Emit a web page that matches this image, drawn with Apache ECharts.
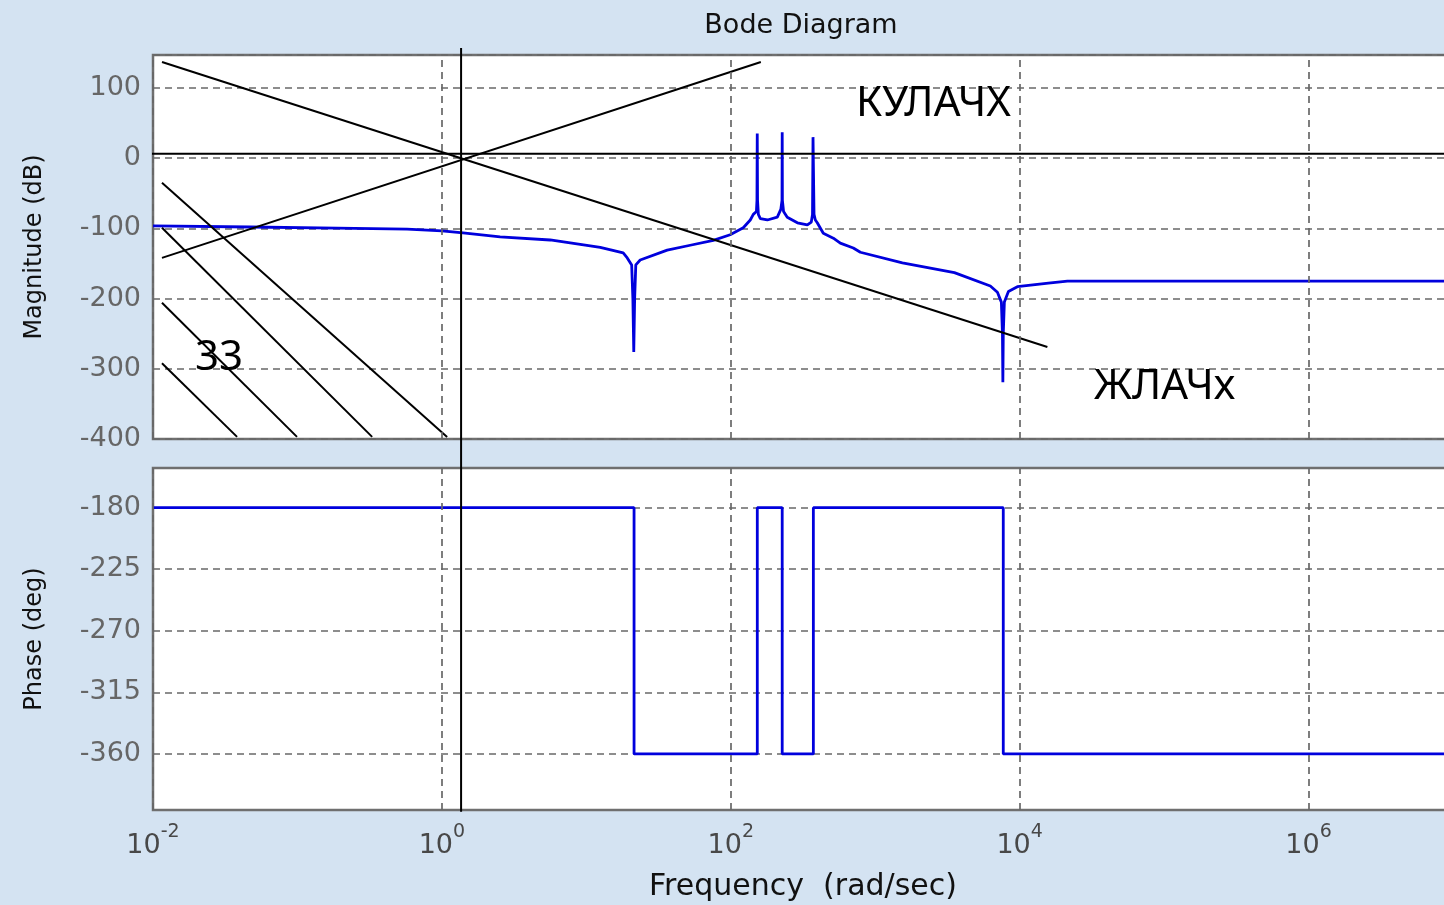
<!DOCTYPE html>
<html>
<head>
<meta charset="utf-8">
<script src="https://cdn.jsdelivr.net/npm/echarts@6/dist/echarts.min.js"></script>
<style>
html,body{margin:0;padding:0;background:#d4e3f2;}
#c{width:1444px;height:905px;}
</style>
</head>
<body>
<div id="c"></div>
<script>
// ---- data ----
const magFreq = [0.01, 0.047, 0.188, 0.574, 1.0, 1.4, 2.53, 5.62, 12.48, 18.0, 19.2, 20.6, 21.0, 21.3, 21.6, 22.0, 23.6, 36.3, 52.4, 75.7, 99, 122, 136.5, 143.2, 150.5, 151.8, 152.5, 153.2, 155.2, 160.2, 179.2, 210, 222, 226.3, 227, 227.7, 232, 246, 289, 339, 361, 368, 371, 374, 377, 385, 397, 437, 513, 573, 705, 789, 1542, 3532, 6266, 7014, 7470, 7600, 7650, 7700, 7835, 8360, 9640, 15810, 21410, 1e7];
const magDb = [-96.5, -98, -99.5, -101, -103.5, -106.5, -112, -116.5, -127, -135, -142, -152, -200, -276, -200, -152, -145, -131, -124, -117, -109, -99, -88, -80, -76, -60, 35, -60, -80, -86, -88, -84, -73, -60, 37, -60, -76, -84, -92, -95, -91, -80, 30, 30, -80, -88, -92, -107, -114, -121, -128, -134, -149, -163, -182, -191, -205, -250, -319, -250, -205, -190, -183, -178, -175, -175];

const phaseFreq = [0.01, 21.4, 21.4, 152.6, 152.6, 227, 227, 373, 373, 7700, 7700, 1e7];
const phaseDeg = [-180, -180, -360, -360, -180, -180, -360, -360, -180, -180, -360, -360];

const xTickExps = [-2, 0, 2, 4, 6];
const xGridFreqs = [0.01, 1, 100, 1e4, 1e6];
const magTicks = [-400, -300, -200, -100, 0, 100];
const phaseTicks = [-360, -315, -270, -225, -180];

// annotation guide lines (frequency, dB)
const slopeDownLine = [[0.01154, 137], [15560, -269]];
const slopeUpLine = [[0.01154, -142], [161.5, 137]];
const hatchLine1 = [[0.01154, -35], [1.087, -397]];
const hatchLine2 = [[0.01154, -99], [0.329, -397]];
const hatchLine3 = [[0.01154, -206], [0.0993, -397]];
const hatchLine4 = [[0.01154, -292], [0.0382, -397]];
const zeroLine = [[0.00916, 6.5], [1e7, 6.5]];
const crossLine = [[1.358, 157], [1.358, -931]];

// ---- chart ----
const chart = echarts.init(document.getElementById('c'));
const F = 'DejaVu Sans';
const gridLineStyle = { color: '#686868', width: 1.7, type: [7, 5] };
const blue = '#0000dd';

const magData = magFreq.map((f, i) => [f, magDb[i]]);
const phaseData = phaseFreq.map((f, i) => [f, phaseDeg[i]]);

function guide(data, clip) {
  return {
    type: 'line', xAxisIndex: 0, yAxisIndex: 0, data: data,
    showSymbol: false, symbol: 'none', clip: clip, silent: true, z: 4,
    lineStyle: { color: '#000', width: 2 }
  };
}
function vGrid(xi, yi) {
  return {
    type: 'line', xAxisIndex: xi, yAxisIndex: yi, data: [], z: 1, silent: true,
    markLine: {
      silent: true, symbol: 'none', label: { show: false },
      lineStyle: gridLineStyle, animation: false,
      data: xGridFreqs.map(v => ({ xAxis: v }))
    }
  };
}
const xLabel = {
  formatter: v => {
    const e = Math.round(Math.log10(v));
    return xTickExps.includes(e) ? '{b|10}{e|' + e + '}' : '';
  },
  margin: 13,
  rich: {
    b: { fontFamily: F, fontSize: 27, color: '#484848' },
    e: { fontFamily: F, fontSize: 19, color: '#484848', padding: [0, 0, 27, 0] }
  }
};

chart.setOption({
  animation: false,
  backgroundColor: '#d4e3f2',
  title: {
    text: 'Bode Diagram', left: 801, top: 12, textAlign: 'center', padding: 0,
    textStyle: { fontFamily: F, fontSize: 27, fontWeight: 'normal', color: '#111' }
  },
  grid: [
    { left: 153, top: 55, width: 1300, height: 384, show: true, backgroundColor: '#fff',
      borderColor: '#6f6f6f', borderWidth: 2.5, outerBoundsMode: 'none' },
    { left: 153, top: 468, width: 1300, height: 342, show: true, backgroundColor: '#fff',
      borderColor: '#6f6f6f', borderWidth: 2.5, outerBoundsMode: 'none' }
  ],
  xAxis: [
    { type: 'log', logBase: 10, gridIndex: 0, min: 0.01, max: 1e7,
      axisLine: { show: false }, axisTick: { show: false }, axisLabel: { show: false },
      splitLine: { show: false } },
    { type: 'log', logBase: 10, gridIndex: 1, min: 0.01, max: 1e7,
      axisLine: { show: false }, axisTick: { show: false }, axisLabel: xLabel,
      splitLine: { show: false },
      name: 'Frequency  (rad/sec)', nameLocation: 'middle', nameGap: 62,
      nameTextStyle: { fontFamily: F, fontSize: 30, color: '#111' } }
  ],
  yAxis: [
    { type: 'value', gridIndex: 0, min: -400, max: 147, interval: 100,
      axisLine: { show: false }, axisTick: { show: false },
      axisLabel: { fontFamily: F, fontSize: 27, color: '#666', margin: 12,
        formatter: v => magTicks.includes(v) ? String(v) : '' },
      splitLine: { show: true, lineStyle: gridLineStyle },
      name: 'Magnitude (dB)', nameLocation: 'middle', nameGap: 106,
      nameTextStyle: { fontFamily: F, fontSize: 24, color: '#111' } },
    { type: 'value', gridIndex: 1, min: -401, max: -151,
      axisLine: { show: false },
      axisTick: { show: false, customValues: phaseTicks },
      axisLabel: { fontFamily: F, fontSize: 27, color: '#666', margin: 12, customValues: phaseTicks },
      splitLine: { show: true, lineStyle: gridLineStyle },
      name: 'Phase (deg)', nameLocation: 'middle', nameGap: 106,
      nameTextStyle: { fontFamily: F, fontSize: 24, color: '#111' } }
  ],
  series: [
    vGrid(0, 0),
    vGrid(1, 1),
    { type: 'line', xAxisIndex: 0, yAxisIndex: 0, data: magData, showSymbol: false,
      symbol: 'none', z: 3, lineStyle: { color: blue, width: 2.8 } },
    { type: 'line', xAxisIndex: 1, yAxisIndex: 1, data: phaseData, showSymbol: false,
      symbol: 'none', z: 3, lineStyle: { color: blue, width: 2.8 } },
    guide(slopeDownLine, true),
    guide(slopeUpLine, true),
    guide(hatchLine1, true),
    guide(hatchLine2, true),
    guide(hatchLine3, true),
    guide(hatchLine4, true),
    guide(zeroLine, false),
    guide(crossLine, false)
  ],
  graphic: [
    { type: 'text', left: 856, top: 83, z: 10,
      style: { text: 'КУЛАЧХ', font: '42px "Noto Sans"', fill: '#000' } },
    { type: 'text', left: 1094, top: 366, z: 10,
      style: { text: 'ЖЛАЧх', font: '42px "Noto Sans"', fill: '#000' } },
    { type: 'text', left: 195, top: 337, z: 10,
      style: { text: '33', font: '42px "Noto Sans"', fill: '#000' } }
  ]
});
</script>
</body>
</html>
